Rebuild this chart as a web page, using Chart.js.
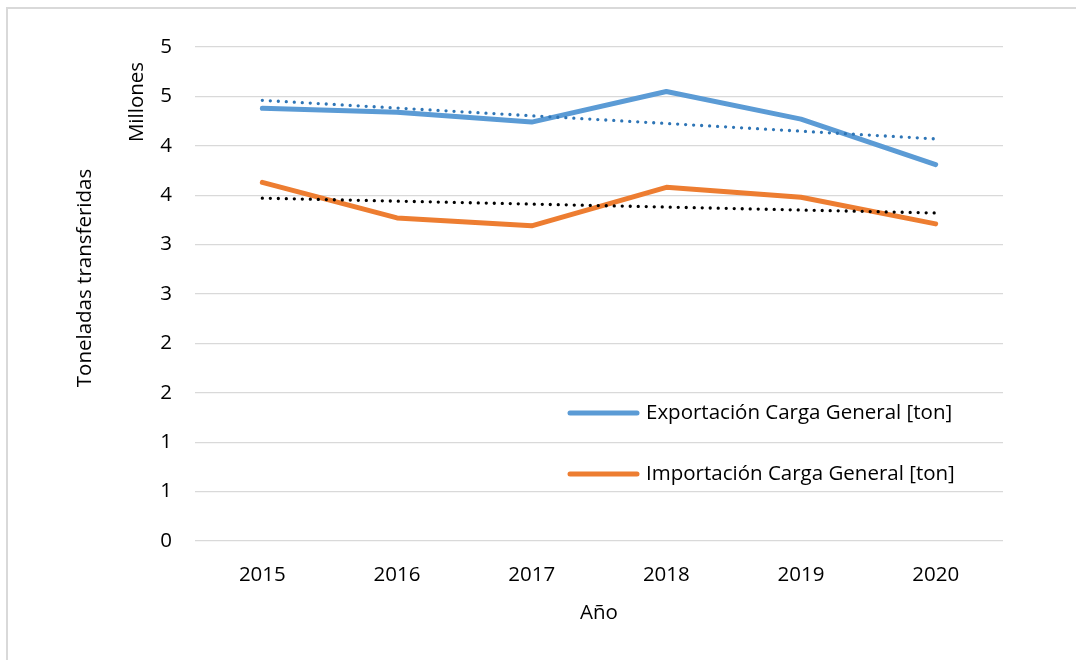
<!DOCTYPE html>
<html>
<head>
<meta charset="utf-8">
<script src="https://cdn.jsdelivr.net/npm/chart.js"></script>
<style>
  html, body { margin: 0; padding: 0; background: #fff; overflow: hidden; }
  #wrap { width: 1076px; height: 660px; }
</style>
</head>
<body>
<div id="wrap"><canvas id="myChart" width="1076" height="660"></canvas></div>

<script>
// Datos (millones de toneladas)
const years = ['2015', '2016', '2017', '2018', '2019', '2020'];
const exportacion = [4.38, 4.34, 4.24, 4.55, 4.27, 3.81];
const importacion = [3.63, 3.27, 3.19, 3.58, 3.48, 3.21];
const trendExpEnds = [4.46, 4.07];
const trendImpEnds = [3.47, 3.32];
const yTickLabels = ['0', '1', '1', '2', '2', '3', '3', '4', '4', '5', '5'];

const FONT = 'Open Sans';
const FSIZE = 20.5;
const TXT = '#000000';

// marco, titulo del eje Y y leyenda dibujados a mano
const extras = {
  id: 'extras',
  beforeDraw(chart) {
    const ctx = chart.ctx;
    ctx.save();
    ctx.strokeStyle = '#d9d9d9';
    ctx.lineWidth = 2;
    ctx.beginPath();
    ctx.moveTo(7, 670);
    ctx.lineTo(7, 8);
    ctx.lineTo(1090, 8);
    ctx.stroke();
    ctx.restore();
  },
  afterDraw(chart) {
    const ctx = chart.ctx;
    const font = FSIZE + 'px "' + FONT + '"';
    ctx.save();
    ctx.fillStyle = TXT;
    ctx.font = font;
    ctx.textAlign = 'center';
    ctx.textBaseline = 'middle';
    ctx.translate(85, 278);
    ctx.rotate(-Math.PI / 2);
    ctx.fillText('Toneladas transferidas', 0, 0);
    ctx.restore();

    ctx.save();
    ctx.fillStyle = TXT;
    ctx.font = font;
    ctx.textAlign = 'center';
    ctx.textBaseline = 'middle';
    ctx.translate(137, 102);
    ctx.rotate(-Math.PI / 2);
    ctx.fillText('Millones', 0, 0);
    ctx.restore();

    // leyenda
    const items = chart.data.datasets.filter(d => d.inLegend);
    const ys = [413, 474];
    ctx.save();
    items.forEach((d, i) => {
      ctx.strokeStyle = d.borderColor;
      ctx.lineWidth = 5;
      ctx.lineCap = 'round';
      ctx.beginPath();
      ctx.moveTo(570, ys[i]);
      ctx.lineTo(637, ys[i]);
      ctx.stroke();
      ctx.fillStyle = TXT;
      ctx.font = font;
      ctx.textAlign = 'left';
      ctx.textBaseline = 'middle';
      ctx.fillText(d.label, 646, ys[i]);
    });
    ctx.restore();
  }
};

const data = {
  labels: years,
  datasets: [
    {
      label: 'Exportación Carga General [ton]',
      inLegend: true,
      data: exportacion,
      borderColor: '#5b9bd5',
      borderWidth: 5,
      borderCapStyle: 'round',
      borderJoinStyle: 'round',
      pointRadius: 0,
      tension: 0,
      order: 1
    },
    {
      label: 'Importación Carga General [ton]',
      inLegend: true,
      data: importacion,
      borderColor: '#ed7d31',
      borderWidth: 5,
      borderCapStyle: 'round',
      borderJoinStyle: 'round',
      pointRadius: 0,
      tension: 0,
      order: 1
    },
    {
      label: 'Lineal (Exportación)',
      data: [{ x: years[0], y: trendExpEnds[0] }, { x: years[5], y: trendExpEnds[1] }],
      borderColor: '#2e75b6',
      borderWidth: 3.3,
      borderDash: [0, 8],
      borderCapStyle: 'round',
      pointRadius: 0,
      order: 0
    },
    {
      label: 'Lineal (Importación)',
      data: [{ x: years[0], y: trendImpEnds[0] }, { x: years[5], y: trendImpEnds[1] }],
      borderColor: '#000000',
      borderWidth: 3.3,
      borderDash: [0, 8],
      borderCapStyle: 'round',
      pointRadius: 0,
      order: 0
    }
  ]
};

const config = {
  type: 'line',
  data: data,
  options: {
    responsive: false,
    animation: false,
    layout: { padding: { left: 6, top: 47, right: 73, bottom: 0 } },
    plugins: {
      legend: { display: false },
      tooltip: { enabled: false }
    },
    scales: {
      x: {
        offset: true,
        grid: { display: false },
        border: { display: false },
        ticks: { color: TXT, padding: 14, font: { family: FONT, size: FSIZE } },
        title: {
          display: true,
          text: 'Año',
          color: TXT,
          font: { family: FONT, size: FSIZE },
          padding: { top: 0, bottom: 35 }
        },
        afterFit(scale) { scale.height = 119; }
      },
      y: {
        min: 0,
        max: 5,
        grid: { color: '#d9d9d9', lineWidth: 1.3, drawTicks: false },
        border: { display: false },
        ticks: {
          stepSize: 0.5,
          padding: 23,
          color: TXT,
          font: { family: FONT, size: FSIZE },
          callback: (v, i) => yTickLabels[i]
        },
        afterFit(scale) { scale.width = 189; }
      }
    }
  },
  plugins: [extras]
};

var myChart = new Chart(document.getElementById('myChart'), config);
</script>
</body>
</html>
